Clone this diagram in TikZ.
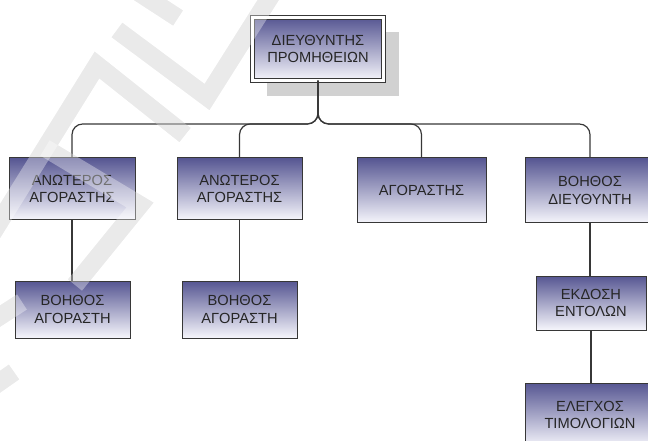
\documentclass[tikz,border=0pt]{standalone}
\usepackage{fontspec}
\setmainfont{Liberation Sans}
\usetikzlibrary{shadows}

\definecolor{boxtop}{RGB}{86,86,146}
\definecolor{boxbot}{RGB}{246,246,252}
\definecolor{linegray}{RGB}{55,55,55}

\tikzset{
  unit/.style={draw=linegray, line width=0.75pt, top color=boxtop, bottom color=boxbot,
    align=center, inner sep=0pt, outer sep=0pt, text=black!85,
    font=\fontsize{11}{13}\selectfont},
  head/.style={unit, double=white, double distance=2pt,
    drop shadow={shadow xshift=11.25pt, shadow yshift=-11.25pt, fill=black!18, opacity=1}},
  link/.style={draw=linegray, line width=0.9pt, rounded corners=8pt},
  wmark/.style={draw=black!12, line width=13.5pt},
  wlight/.style={draw=white, line width=13.5pt, opacity=0.35}
}

\newcommand{\stampmarks}[1]{%
  \draw[#1] (-8,234) -- (97,65) -- (185,135);
  \draw[#1] (45,148) -- (140,205) -- (75,285);
  \draw[#1] (117,30) -- (207,97) -- (272,-6);
  \draw[#1] (138,-8) -- (178,18);
  \draw[#1] (-6,320) -- (22,302);
  \draw[#1] (-6,386) -- (14,372);
}

\begin{document}
\begin{tikzpicture}[x=0.75pt, y=-0.75pt]
  \useasboundingbox (0,0) rectangle (648,441);
  \clip (0,0) rectangle (648,441);

  % watermark behind the chart
  \stampmarks{wmark}

  % head of the chart
  \node[head, minimum width=98.5pt, minimum height=47.5pt] (dir) at (318,49) {ΔΙΕΥΘΥΝΤΗΣ\\ΠΡΟΜΗΘΕΙΩΝ};

  % first level
  \node[unit, minimum width=94.5pt, minimum height=46.5pt] (senA) at (72,189) {ΑΝΩΤΕΡΟΣ\\ΑΓΟΡΑΣΤΗΣ};
  \node[unit, minimum width=93.75pt, minimum height=46.5pt] (senB) at (239.5,189) {ΑΝΩΤΕΡΟΣ\\ΑΓΟΡΑΣΤΗΣ};
  \node[unit, minimum width=96.75pt, minimum height=48.75pt] (buyer) at (421.5,190.5) {ΑΓΟΡΑΣΤΗΣ};
  \node[unit, minimum width=97.5pt, minimum height=48.75pt] (asst) at (590,190.5) {ΒΟΗΘΟΣ\\ΔΙΕΥΘΥΝΤΗ};

  % second level
  \node[unit, minimum width=86.25pt, minimum height=42.75pt] (helpA) at (72.5,309.5) {ΒΟΗΘΟΣ\\ΑΓΟΡΑΣΤΗ};
  \node[unit, minimum width=86.25pt, minimum height=42.75pt] (helpB) at (239.5,309.5) {ΒΟΗΘΟΣ\\ΑΓΟΡΑΣΤΗ};
  \node[unit, minimum width=82.5pt, minimum height=40.5pt] (orders) at (591,303) {ΕΚΔΟΣΗ\\ΕΝΤΟΛΩΝ};
  \node[unit, minimum width=97.5pt, minimum height=48pt] (bills) at (590,415) {ΕΛΕΓΧΟΣ\\ΤΙΜΟΛΟΓΙΩΝ};

  % connectors
  \coordinate (bus) at (318,124);
  \foreach \n in {senA,senB,buyer,asst}
    \draw[link] (dir.south) |- (bus -| \n.north) -- (\n.north);
  \draw[link] (senA.south) -- (senA.south |- helpA.north);
  \draw[link] (senB.south) -- (senB.south |- helpB.north);
  \draw[link] (asst.south) -- (asst.south |- orders.north);
  \draw[link] (orders.south) -- (orders.south |- bills.north);

  % watermark lightening the boxes
  \stampmarks{wlight}
\end{tikzpicture}
\end{document}
